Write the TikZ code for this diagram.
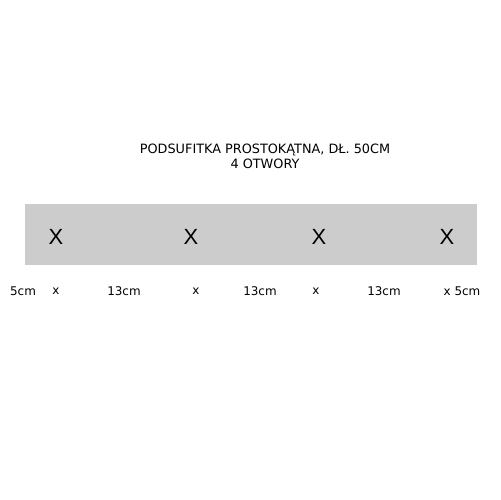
\documentclass[tikz,border=0pt]{standalone}
\usepackage{fontspec}
\setmainfont{DejaVu Sans}
\newfontfamily\xfont{Liberation Sans}
\begin{document}
\begin{tikzpicture}[x=0.02cm,y=-0.02cm,
  title/.style={font=\fontsize{7.3pt}{8.5pt}\selectfont,align=center,inner sep=0pt},
  hole/.style={font=\xfont\fontsize{12.5pt}{14pt}\selectfont,inner sep=0pt},
  dim/.style={font=\fontsize{6.8pt}{8pt}\selectfont,inner sep=0pt}]
\useasboundingbox (0,0) rectangle (500,500);
\fill[fill={rgb,255:red,204;green,204;blue,204}] (25,204) rectangle (477,265);
\node[title] (t) at (265,156) {PODSUFITKA PROSTOKĄTNA, DŁ. 50CM\\4 OTWORY};
\node[hole] (h1) at (56,237) {X};
\node[hole] (h2) at (191,237) {X};
\node[hole] (h3) at (319,237) {X};
\node[hole] (h4) at (447,237) {X};
\node[dim] (d1) at (23,291) {5cm};
\node[dim] (d2) at (56,291) {x};
\node[dim] (d3) at (124,291) {13cm};
\node[dim] (d4) at (196,291) {x};
\node[dim] (d5) at (260,291) {13cm};
\node[dim] (d6) at (316,291) {x};
\node[dim] (d7) at (384,291) {13cm};
\node[dim] (d8) at (462,291) {x 5cm};
\end{tikzpicture}
\end{document}
